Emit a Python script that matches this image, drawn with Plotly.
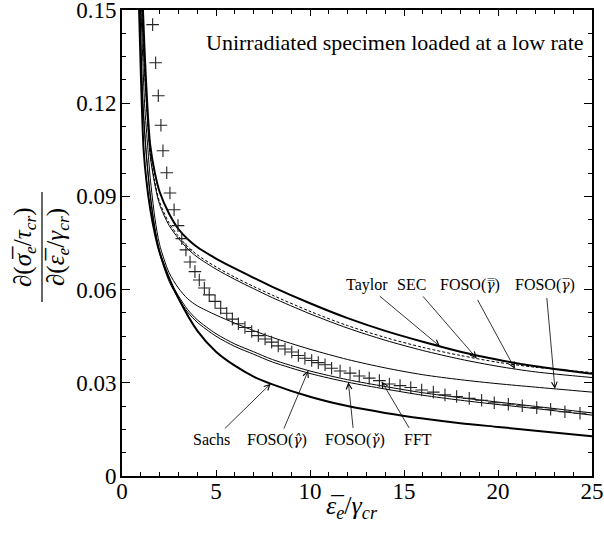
import numpy as np
import plotly.graph_objects as go

# ---------------- data ----------------
TAYLOR_X = [1.1, 1.2, 1.35, 1.5, 1.75, 2, 2.5, 3, 3.5, 4, 5, 6, 7, 8, 10, 12, 14, 16, 18, 20, 22, 25]
TAYLOR_Y = [0.152, 0.137, 0.119, 0.1065, 0.0975, 0.0915, 0.0845, 0.0795, 0.0762, 0.0737, 0.0700,
            0.0668, 0.0638, 0.0609, 0.0556, 0.0508, 0.0467, 0.0432, 0.0400, 0.0374, 0.0353, 0.0329]

SEC_X = [1.05, 1.2, 1.35, 1.5, 1.75, 2, 2.5, 3, 3.5, 4, 5, 6, 7, 8, 10, 12, 14, 16, 18, 20, 22, 25]
SEC_Y = [0.152, 0.131, 0.116, 0.104, 0.0945, 0.0882, 0.0815, 0.0772, 0.0738, 0.0712, 0.0673,
         0.0640, 0.0610, 0.0582, 0.0530, 0.0484, 0.0446, 0.0414, 0.0388, 0.0366, 0.0350, 0.0333]

FOSO_DBAR_X = SEC_X
FOSO_DBAR_Y = [0.151, 0.130, 0.115, 0.103, 0.0937, 0.0874, 0.0807, 0.0765, 0.0731, 0.0705, 0.0666,
               0.0633, 0.0603, 0.0574, 0.0522, 0.0476, 0.0437, 0.0404, 0.0376, 0.0353, 0.0335, 0.0317]

FOSO_BAR_X = [1.0, 1.1, 1.2, 1.38, 1.5, 1.75, 2, 2.5, 3, 3.5, 4, 5, 6, 7, 8, 10, 12, 14, 16, 18, 20, 22, 25]
FOSO_BAR_Y = [0.152, 0.135, 0.120, 0.105, 0.096, 0.083, 0.0745, 0.0655, 0.0605, 0.0570, 0.0548,
              0.0518, 0.0492, 0.0468, 0.0446, 0.0408, 0.0375, 0.0348, 0.0326, 0.0310, 0.0297, 0.0286, 0.0270]

FOSO_HAT_X = [0.95, 1.1, 1.28, 1.5, 1.75, 2, 2.5, 3, 3.5, 4, 5, 6, 7, 8, 10, 12, 14, 16, 18, 20, 22, 25]
FOSO_HAT_Y = [0.152, 0.122, 0.105, 0.091, 0.080, 0.0725, 0.0635, 0.0580, 0.0535, 0.0503, 0.0458,
              0.0425, 0.0400, 0.0375, 0.0338, 0.0310, 0.0288, 0.0268, 0.0252, 0.0238, 0.0224, 0.0203]

FOSO_CHECK_X = FOSO_HAT_X
FOSO_CHECK_Y = [0.152, 0.121, 0.104, 0.090, 0.079, 0.0717, 0.0627, 0.0572, 0.0527, 0.0495, 0.0450,
                0.0417, 0.0392, 0.0367, 0.0330, 0.0302, 0.0280, 0.0260, 0.0244, 0.0230, 0.0217, 0.0196]

SACHS_X = [0.9, 1.0, 1.15, 1.3, 1.5, 1.75, 2, 2.5, 3, 4, 5, 6, 7, 8, 10, 12, 14, 16, 18, 20, 22, 25]
SACHS_Y = [0.152, 0.130, 0.105, 0.095, 0.086, 0.078, 0.072, 0.0638, 0.0572, 0.0468, 0.0400, 0.0355,
           0.0320, 0.0295, 0.0255, 0.0225, 0.0203, 0.0185, 0.0170, 0.0158, 0.0146, 0.0128]

FFT_X = [1.63, 1.79, 1.93, 2.07, 2.18, 2.38, 2.55, 2.77, 2.98, 3.18, 3.40, 3.62, 3.88, 4.11, 4.38,
         4.64, 4.95, 5.25, 5.57, 5.87, 6.19, 6.54, 6.90, 7.25, 7.61, 7.96, 8.31, 8.67, 9.03, 9.38,
         9.73, 10.09, 10.44, 10.80, 11.15, 11.60, 12.13, 12.62, 13.15, 13.69, 14.22, 14.79, 15.36,
         15.94, 16.56, 17.18, 17.80, 18.47, 19.13, 19.80, 20.55, 21.29, 22.06, 22.80, 23.56, 24.36]
FFT_Y = [0.1453, 0.1330, 0.1224, 0.1129, 0.1047, 0.0976, 0.0911, 0.0857, 0.0806, 0.0764, 0.0728,
         0.0689, 0.0658, 0.0631, 0.0605, 0.0583, 0.0562, 0.0540, 0.0524, 0.0505, 0.0490, 0.0478,
         0.0465, 0.0452, 0.0441, 0.0431, 0.0419, 0.0409, 0.0399, 0.0388, 0.0379, 0.0372, 0.0365,
         0.0358, 0.0347, 0.0338, 0.0331, 0.0322, 0.0315, 0.0307, 0.0296, 0.0291, 0.0285, 0.0277,
         0.0270, 0.0261, 0.0256, 0.0250, 0.0244, 0.0236, 0.0231, 0.0226, 0.0220, 0.0215, 0.0207, 0.0202]

X_TICKS = [0, 5, 10, 15, 20, 25]
Y_TICKS = [0, 0.03, 0.06, 0.09, 0.12, 0.15]
Y_TICK_TEXT = ["0", "0.03", "0.06", "0.09", "0.12", "0.15"]


def gam(mark):
    return ('<span style="font-family:DejaVu Serif;font-size:14px"><i>γ' + mark + '</i></span>')


# labels: (text, label x, label y, arrow tail x, tail y, tip x, curve for tip)
LABELS_TOP = [
    ("Taylor", 13.02, 0.0615, 13.63, 0.0583, 16.91, "taylor"),
    ("SEC", 15.41, 0.0615, 15.94, 0.0583, 18.87, "sec"),
    ("FOSO(" + gam("\u033f") + ")", 18.51, 0.0615, 18.87, 0.0572, 20.9, "dbar"),
    ("FOSO(" + gam("\u0305") + ")", 22.5, 0.0615, 22.59, 0.0578, 23.03, "bar"),
]
LABELS_BOT = [
    ("Sachs", 4.77, 0.0116, 5.39, 0.0148, 7.91, "sachs"),
    ("FOSO(" + gam("\u0302") + ")", 8.23, 0.0116, 8.58, 0.0148, 9.91, "hat"),
    ("FOSO(" + gam("\u030c") + ")", 12.39, 0.0116, 12.30, 0.0150, 12.04, "check"),
    ("FFT", 15.76, 0.0116, 15.32, 0.0150, 13.81, "fft"),
]

CURVES = {
    "taylor": (TAYLOR_X, TAYLOR_Y), "sec": (SEC_X, SEC_Y), "dbar": (FOSO_DBAR_X, FOSO_DBAR_Y),
    "bar": (FOSO_BAR_X, FOSO_BAR_Y), "hat": (FOSO_HAT_X, FOSO_HAT_Y),
    "check": (FOSO_CHECK_X, FOSO_CHECK_Y), "sachs": (SACHS_X, SACHS_Y), "fft": (FFT_X, FFT_Y),
}

FONT = "Liberation Serif"

W, H = 604, 533
ML, MT, MR, MB = 122, 10, 12, 57
PW = W - ML - MR
PH = H - MT - MB


def px_x(p):  # window px -> paper x
    return (p - ML) / PW


def px_y(p):  # window px -> paper y
    return (H - MB - p) / PH


fig = go.Figure()


def add_line(x, y, width, dash="solid"):
    fig.add_trace(go.Scatter(x=x, y=y, mode="lines",
                             line=dict(color="black", width=width, dash=dash, shape="spline", smoothing=0.8),
                             hoverinfo="skip"))


add_line(SACHS_X, SACHS_Y, 2.0)
add_line(FOSO_CHECK_X, FOSO_CHECK_Y, 1.0)
add_line(FOSO_HAT_X, FOSO_HAT_Y, 1.0)
add_line(FOSO_BAR_X, FOSO_BAR_Y, 1.0)
add_line(FOSO_DBAR_X, FOSO_DBAR_Y, 1.0)
add_line(SEC_X, SEC_Y, 1.0, dash="3px,2px")
add_line(TAYLOR_X, TAYLOR_Y, 2.0)

fig.add_trace(go.Scatter(x=FFT_X, y=FFT_Y, mode="markers",
                         marker=dict(symbol="cross-thin", size=9, color="black",
                                     line=dict(color="#222", width=1.1)),
                         hoverinfo="skip"))

annotations = []
for text, lx, ly, tx, ty, px, key in LABELS_TOP + LABELS_BOT:
    annotations.append(dict(x=lx, y=ly, xref="x", yref="y", text=text, showarrow=False,
                            font=dict(family=FONT, size=16, color="black")))
    cx, cy = CURVES[key]
    tipy = float(np.interp(px, cx, cy))
    annotations.append(dict(x=px, y=tipy, ax=tx, ay=ty, xref="x", yref="y", axref="x", ayref="y",
                            text="", showarrow=True, arrowhead=5, arrowsize=1.4, arrowwidth=0.8,
                            arrowcolor="black", standoff=0))

annotations.append(dict(x=24.7, y=0.1395, xref="x", yref="y", xanchor="right", yanchor="middle",
                        text="Unirradiated specimen loaded at a low rate", showarrow=False,
                        font=dict(family=FONT, size=22, color="black")))

# axis titles
annotations.append(dict(x=px_x(352), y=px_y(507), xref="paper", yref="paper", xanchor="center",
                        yanchor="middle",
                        text="<i>ε\u0305</i><sub><i>e</i></sub>/<i>γ</i><sub><i>cr</i></sub>",
                        showarrow=False, font=dict(family=FONT, size=26, color="black")))
annotations.append(dict(x=px_x(25), y=px_y(247), xref="paper", yref="paper", xanchor="center",
                        yanchor="middle", textangle=-90,
                        text="∂(<i>σ\u0305</i><sub><i>e</i></sub>/<i>τ</i><sub><i>cr</i></sub>)",
                        showarrow=False, font=dict(family=FONT, size=25, color="black")))
annotations.append(dict(x=px_x(58), y=px_y(247), xref="paper", yref="paper", xanchor="center",
                        yanchor="middle", textangle=-90,
                        text="∂(<i>ε\u0305</i><sub><i>e</i></sub>/<i>γ</i><sub><i>cr</i></sub>)",
                        showarrow=False, font=dict(family=FONT, size=25, color="black")))

shapes = [dict(type="line", xref="paper", yref="paper", x0=px_x(42), x1=px_x(42),
               y0=px_y(302), y1=px_y(192), line=dict(color="black", width=1.2))]

axis_common = dict(showgrid=False, zeroline=False, showline=True, linecolor="black", linewidth=1.6,
                   mirror="ticks", ticks="inside", tickwidth=1, tickcolor="black",
                   ticklabeloverflow="allow", automargin=False,
                   tickfont=dict(family=FONT, size=23, color="black"))

fig.update_layout(
    width=W, height=H,
    margin=dict(l=ML, r=MR, t=MT, b=MB, autoexpand=False),
    plot_bgcolor="white", paper_bgcolor="white",
    font=dict(family=FONT, color="black"),
    showlegend=False,
    xaxis=dict(range=[0, 25], tickvals=X_TICKS, ticklabelstandoff=-6, ticklen=6,
               minor=dict(dtick=1, tick0=0, ticks="inside", ticklen=4, tickcolor="black"),
               **axis_common),
    yaxis=dict(range=[0, 0.15], tickvals=Y_TICKS, ticktext=Y_TICK_TEXT, ticklabelstandoff=-1, ticklen=8,
               minor=dict(dtick=0.0075, tick0=0, ticks="inside", ticklen=4, tickcolor="black"),
               **axis_common),
    annotations=annotations,
    shapes=shapes,
)

fig.write_html("out.html", config={"displayModeBar": False},
               post_script="document.body.style.margin='0px';")
